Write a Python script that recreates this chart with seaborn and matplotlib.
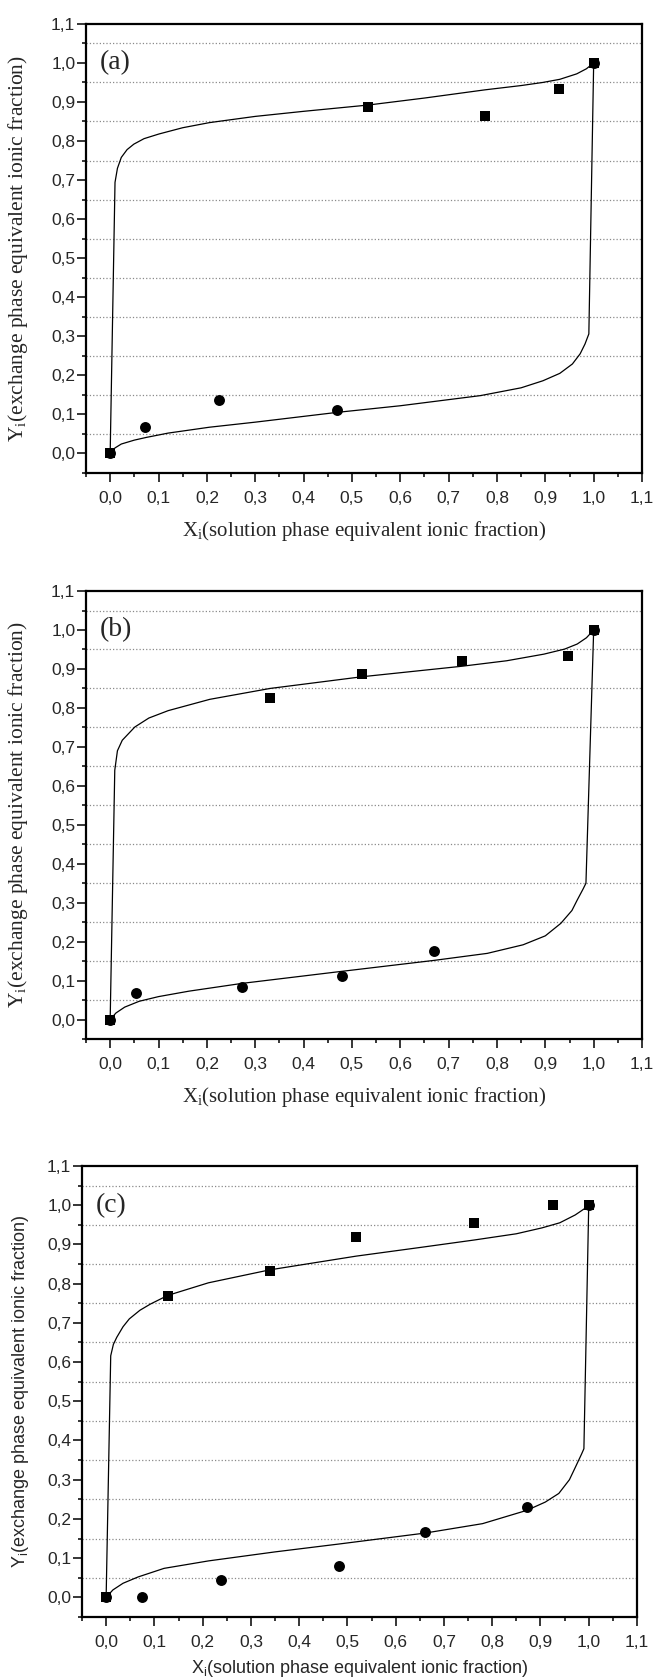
#!/usr/bin/env python3
"""
Ion exchange isotherms - three stacked panels (a), (b), (c)
Experimental points (squares / circles) with fitted isotherm curves
"""

import matplotlib
matplotlib.use('Agg')
import matplotlib.pyplot as plt
from matplotlib.ticker import MultipleLocator, FuncFormatter
import seaborn as sns

# ---- Panel (a) ----
a_sq_x = [0.0, 0.533, 0.775, 0.928, 1.0]
a_sq_y = [0.0, 0.886, 0.863, 0.932, 1.0]
a_ci_x = [0.0, 0.072, 0.226, 0.469, 1.0]
a_ci_y = [0.0, 0.067, 0.136, 0.112, 1.0]
a_up_x = [0.0, 0.010, 0.015, 0.023, 0.035, 0.049, 0.07, 0.101, 0.15, 0.205, 0.30,
          0.40, 0.533, 0.65, 0.775, 0.85, 0.895, 0.93, 0.965, 0.985, 1.0]
a_up_y = [0.0, 0.694, 0.730, 0.758, 0.778, 0.792, 0.806, 0.818, 0.834, 0.847, 0.863,
          0.876, 0.892, 0.910, 0.931, 0.942, 0.950, 0.958, 0.972, 0.985, 1.0]
a_lo_x = [0.0, 0.01, 0.023, 0.05, 0.075, 0.12, 0.205, 0.30, 0.469, 0.60, 0.766,
          0.85, 0.895, 0.93, 0.956, 0.972, 0.982, 0.99, 1.0]
a_lo_y = [0.0, 0.014, 0.024, 0.034, 0.041, 0.052, 0.067, 0.080, 0.105, 0.122, 0.148,
          0.168, 0.186, 0.205, 0.229, 0.255, 0.280, 0.306, 1.0]

# ---- Panel (b) ----
b_sq_x = [0.0, 0.331, 0.521, 0.728, 0.946, 1.0]
b_sq_y = [0.0, 0.825, 0.887, 0.920, 0.933, 1.0]
b_ci_x = [0.0, 0.054, 0.273, 0.480, 0.670, 1.0]
b_ci_y = [0.0, 0.067, 0.083, 0.113, 0.176, 1.0]
b_up_x = [0.0, 0.0095, 0.015, 0.025, 0.051, 0.08, 0.12, 0.206, 0.331, 0.521, 0.728,
          0.82, 0.897, 0.94, 0.966, 0.985, 1.0]
b_up_y = [0.0, 0.640, 0.690, 0.717, 0.751, 0.774, 0.793, 0.822, 0.850, 0.880, 0.907,
          0.921, 0.938, 0.951, 0.964, 0.980, 1.0]
b_lo_x = [0.0, 0.012, 0.03, 0.06, 0.10, 0.163, 0.273, 0.48, 0.67, 0.78, 0.854,
          0.90, 0.932, 0.955, 0.966, 0.978, 0.984, 1.0]
b_lo_y = [0.0, 0.017, 0.032, 0.047, 0.059, 0.073, 0.093, 0.124, 0.152, 0.170, 0.192,
          0.215, 0.247, 0.280, 0.307, 0.335, 0.350, 1.0]

# ---- Panel (c) ----
c_sq_x = [0.0, 0.128, 0.339, 0.518, 0.762, 0.925, 1.0]
c_sq_y = [0.0, 0.769, 0.831, 0.920, 0.955, 1.0, 1.0]
c_ci_x = [0.0, 0.074, 0.238, 0.482, 0.661, 0.872, 1.0]
c_ci_y = [0.0, 0.0, 0.0445, 0.079, 0.166, 0.230, 1.0]
c_up_x = [0.0, 0.0095, 0.015, 0.022, 0.035, 0.048, 0.07, 0.092, 0.128, 0.212, 0.339,
          0.518, 0.65, 0.762, 0.85, 0.903, 0.94, 0.972, 0.99, 1.0]
c_up_y = [0.0, 0.616, 0.645, 0.663, 0.690, 0.710, 0.732, 0.748, 0.770, 0.802, 0.835,
          0.870, 0.892, 0.911, 0.927, 0.942, 0.955, 0.975, 0.990, 1.0]
c_lo_x = [0.0, 0.014, 0.035, 0.066, 0.12, 0.212, 0.35, 0.482, 0.661, 0.78, 0.872,
          0.91, 0.938, 0.96, 0.972, 0.985, 0.99, 1.0]
c_lo_y = [0.0, 0.019, 0.036, 0.052, 0.074, 0.093, 0.116, 0.136, 0.164, 0.188, 0.222,
          0.243, 0.265, 0.300, 0.331, 0.365, 0.379, 1.0]

XLABEL = r'X$\mathregular{_i}$(solution phase equivalent ionic fraction)'
YLABEL = r'Y$\mathregular{_i}$(exchange phase equivalent ionic fraction)'

SERIF = ['Liberation Serif', 'DejaVu Serif']
SANS = ['Liberation Sans', 'DejaVu Sans']


def comma_fmt(v, pos):
    """Decimal comma tick labels"""
    s = f'{v:.1f}'.replace('.', ',')
    return '0,0' if s == '-0,0' else s


def draw_panel(ax, sq, ci, up, lo, letter, family, xsize, ysize, ylab_x, xlab_y):
    """Draw one isotherm panel"""
    # fitted curves
    for cx, cy in (up, lo):
        sns.lineplot(x=cx, y=cy, sort=False, estimator=None, color='black',
                     linewidth=0.9, ax=ax, zorder=3)
    # experimental points
    sns.scatterplot(x=sq[0], y=sq[1], marker='s', s=52, color='black',
                    edgecolor='black', linewidth=0, ax=ax, zorder=4)
    sns.scatterplot(x=ci[0], y=ci[1], marker='o', s=62, color='black',
                    edgecolor='black', linewidth=0, ax=ax, zorder=4)

    ax.set_xlim(-0.05, 1.1)
    ax.set_ylim(-0.05, 1.1)
    for axis in (ax.xaxis, ax.yaxis):
        axis.set_major_locator(MultipleLocator(0.1))
        axis.set_minor_locator(MultipleLocator(0.05))
        axis.set_major_formatter(FuncFormatter(comma_fmt))

    ax.yaxis.grid(True, which='minor', linestyle=':', color='#8a8a8a', linewidth=0.9)
    ax.xaxis.grid(False, which='both')
    ax.yaxis.grid(False, which='major')

    ax.tick_params(which='major', direction='out', length=6.2, width=1.3,
                   top=False, right=False, labelsize=12.5)
    ax.tick_params(which='minor', direction='out', length=3.0, width=1.3,
                   top=False, right=False)
    ax.tick_params(axis='x', which='major', pad=6.5)
    ax.tick_params(axis='y', which='major', pad=1.5)
    for lab in ax.get_xticklabels() + ax.get_yticklabels():
        lab.set_family(SANS)
    for sp in ax.spines.values():
        sp.set_linewidth(1.6)
        sp.set_color('black')

    ax.set_xlabel(XLABEL, family=family, fontsize=xsize)
    ax.set_ylabel(YLABEL, family=family, fontsize=ysize)
    ax.yaxis.set_label_coords(ylab_x, 0.5)
    ax.xaxis.set_label_coords(0.5, xlab_y)

    ax.text(-0.021, 1.0, letter, family=SERIF, fontsize=20, ha='left', va='center')


def main():
    sns.set_style('ticks')
    plt.rcParams['font.family'] = SANS

    fig = plt.figure(figsize=(6.55, 16.8), dpi=100)
    ax_a = fig.add_axes([0.1313, 0.7185, 0.8489, 0.2673])
    ax_b = fig.add_axes([0.1313, 0.3815, 0.8489, 0.2667])
    ax_c = fig.add_axes([0.1252, 0.0375, 0.8473, 0.2685])

    draw_panel(ax_a, (a_sq_x, a_sq_y), (a_ci_x, a_ci_y), (a_up_x, a_up_y),
               (a_lo_x, a_lo_y), '(a)', SERIF, 15, 15.5, -0.10, -0.102)
    draw_panel(ax_b, (b_sq_x, b_sq_y), (b_ci_x, b_ci_y), (b_up_x, b_up_y),
               (b_lo_x, b_lo_y), '(b)', SERIF, 15, 15.5, -0.10, -0.102)
    draw_panel(ax_c, (c_sq_x, c_sq_y), (c_ci_x, c_ci_y), (c_up_x, c_up_y),
               (c_lo_x, c_lo_y), '(c)', SANS, 13, 13, -0.092, -0.092)

    fig.savefig('out.png', dpi=100, facecolor='white')
    plt.close(fig)


if __name__ == '__main__':
    main()
